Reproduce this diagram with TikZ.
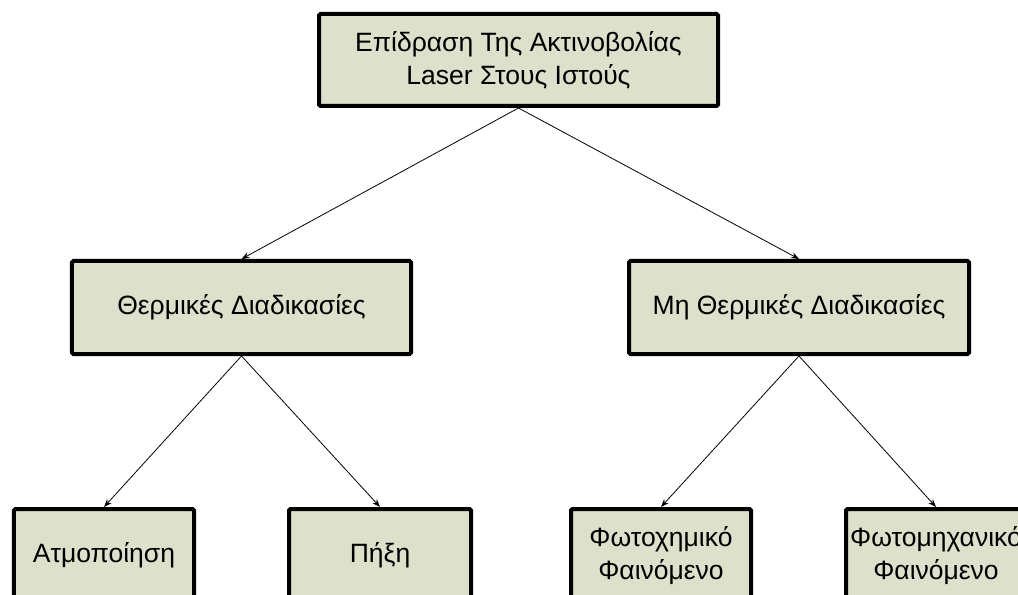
\documentclass[tikz,border=0pt]{standalone}
\usepackage{fontspec}
\setmainfont{Liberation Sans}
\usetikzlibrary{arrows.meta}
\definecolor{boxfill}{RGB}{221,224,203}
\tikzset{
  box/.style={draw=black, fill=boxfill, line width=4bp, rounded corners=1.5bp,
    align=center, inner sep=0pt, font=\fontsize{26.6}{33}\selectfont},
  conn/.style={line width=0.8bp, -{Stealth[length=8bp,width=6bp]}}
}
\begin{document}
\begin{tikzpicture}[x=1bp,y=-1bp]
\useasboundingbox (0,0) rectangle (1018,595);
\clip (0,0) rectangle (1018,595);
\node[box, minimum width=399bp, minimum height=92bp] (top) at (518.5,60) {Επίδραση Της Ακτινοβολίας\\Laser Στους Ιστούς};
\node[box, minimum width=339bp, minimum height=93bp] (ml) at (241.5,307.5) {Θερμικές Διαδικασίες};
\node[box, minimum width=340bp, minimum height=93bp] (mr) at (799,307.5) {Μη Θερμικές Διαδικασίες};
\node[box, minimum width=180bp, minimum height=93bp] (b1) at (104,555.5) {Ατμοποίηση};
\node[box, minimum width=182bp, minimum height=93bp] (b2) at (380,555.5) {Πήξη};
\node[box, minimum width=180bp, minimum height=93bp] (b3) at (661,555.5) {Φωτοχημικό\\Φαινόμενο};
\node[box, minimum width=180bp, minimum height=93bp] (b4) at (936,555.5) {Φωτομηχανικό\\Φαινόμενο};
\draw[conn] (top.south) -- (ml.north);
\draw[conn] (top.south) -- (mr.north);
\draw[conn] (ml.south) -- (b1.north);
\draw[conn] (ml.south) -- (b2.north);
\draw[conn] (mr.south) -- (b3.north);
\draw[conn] (mr.south) -- (b4.north);
\end{tikzpicture}
\end{document}
